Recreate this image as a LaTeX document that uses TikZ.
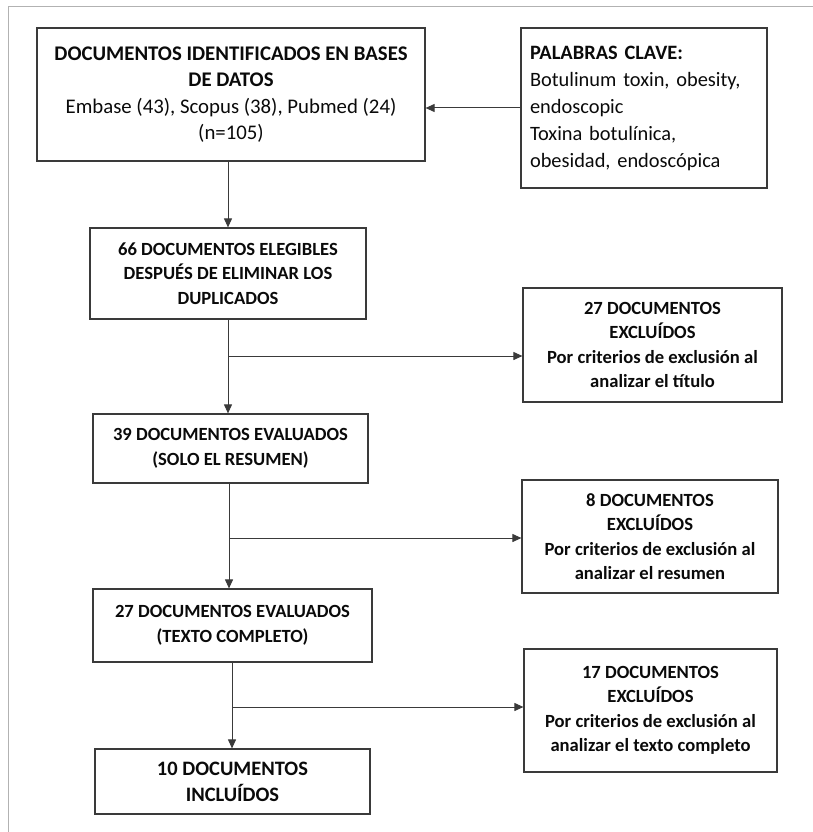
\documentclass[tikz,border=0pt]{standalone}
\usepackage{fontspec}
\setmainfont{Carlito}
\usetikzlibrary{arrows.meta}
\definecolor{edge}{HTML}{3A3A3A}
\definecolor{ink}{HTML}{0A0A0A}
\tikzset{
  box/.style={draw=edge, line width=1.2pt, rectangle, inner sep=0pt, align=center, text=ink},
  title/.style={font=\fontsize{20.8}{26.5}\selectfont},
  excl/.style={font=\fontsize{18.6}{24.5}\selectfont\bfseries},
  main/.style={font=\fontsize{18.6}{24.5}\selectfont\bfseries},
  arr/.style={draw=edge, line width=1pt, -{Triangle[length=9pt,width=8pt]}},
}
\begin{document}
\begin{tikzpicture}[x=1pt,y=-1pt]
\useasboundingbox (0,0) rectangle (813,832);
% frame
\draw[gray!60, line width=0.8pt] (8,832) -- (8,6) -- (813,6);

\node[box, title, minimum width=388pt, minimum height=133pt] (b1) at (231,94.5)
  {\textbf{DOCUMENTOS IDENTIFICADOS EN BASES}\\\textbf{DE DATOS}\\Embase (43), Scopus (38), Pubmed (24)\\(n=105)};
\node[box, font=\fontsize{20.4}{27}\selectfont, minimum width=246pt, minimum height=160pt, text width=228pt, align=left] (kw) at (644,108)
  {\textbf{PALABRAS CLAVE:}\\Botulinum toxin, obesity,\\endoscopic\\Toxina botulínica,\\obesidad, endoscópica};
\node[box, main, minimum width=276pt, minimum height=91pt] (b2) at (228,273.5)
  {66 DOCUMENTOS ELEGIBLES\\DESPUÉS DE ELIMINAR LOS\\DUPLICADOS};
\node[box, excl, minimum width=259pt, minimum height=114pt] (e1) at (652.5,345)
  {27 DOCUMENTOS\\EXCLUÍDOS\\Por criterios de exclusión al\\analizar el título};
\node[box, main, minimum width=275pt, minimum height=69pt] (b3) at (230.5,448.5)
  {39 DOCUMENTOS EVALUADOS\\(SOLO EL RESUMEN)};
\node[box, excl, minimum width=256pt, minimum height=113pt] (e2) at (650,536.5)
  {8 DOCUMENTOS\\EXCLUÍDOS\\Por criterios de exclusión al\\analizar el resumen};
\node[box, main, minimum width=279pt, minimum height=73pt] (b4) at (232.5,625.5)
  {27 DOCUMENTOS EVALUADOS\\(TEXTO COMPLETO)};
\node[box, excl, minimum width=253pt, minimum height=123pt] (e3) at (650.5,710.5)
  {17 DOCUMENTOS\\EXCLUÍDOS\\Por criterios de exclusión al\\analizar el texto completo};
\node[box, font=\fontsize{20.5}{26}\selectfont\bfseries, minimum width=275pt, minimum height=65pt] (b5) at (232.5,781.5)
  {10 DOCUMENTOS\\INCLUÍDOS};

% junction coordinates
\coordinate (j1) at (228,356);
\coordinate (j2) at (229,538);
\coordinate (j3) at (232,707);

% connectors
\draw[arr] (kw.west) -- (kw.west -| b1.east);
\draw[arr] (b1.south -| b2.north) -- (b2.north);
\draw[arr] (b2.south) -- (b3.north -| b2.south);
\draw[arr] (j1) -- (e1.west |- j1);
\draw[arr] (b3.south -| j2) -- (b4.north -| j2);
\draw[arr] (j2) -- (e2.west |- j2);
\draw[arr] (b4.south -| j3) -- (b5.north -| j3);
\draw[arr] (j3) -- (e3.west |- j3);
\end{tikzpicture}
\end{document}
